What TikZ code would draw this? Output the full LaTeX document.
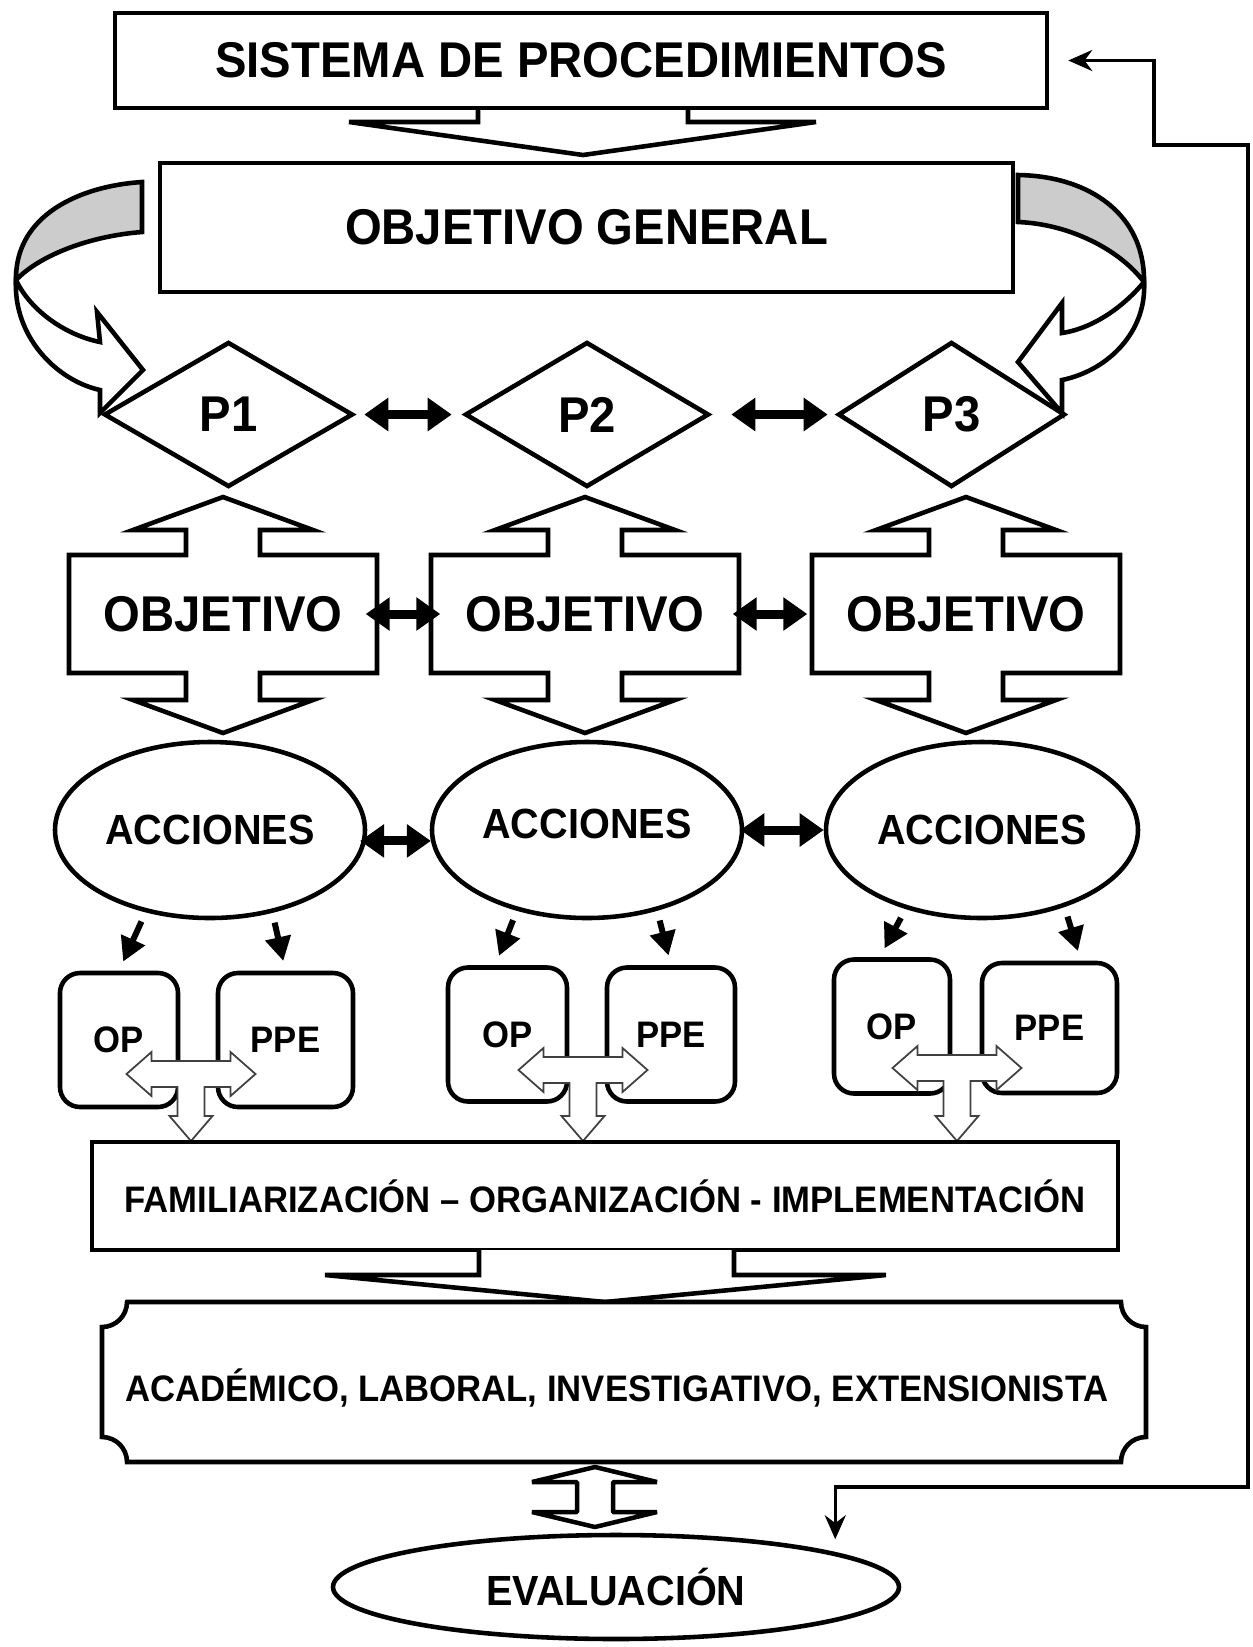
\documentclass[tikz,border=0pt]{standalone}
\usepackage{fontspec}
\setmainfont{Liberation Sans}[FakeStretch=0.94]
\usetikzlibrary{arrows.meta,shapes,calc}

\begin{document}
\begin{tikzpicture}[
	caja/.style={draw,line width=1.3pt,fill=white,inner sep=0pt},
	forma/.style={draw,line width=1.3pt,fill=white,line join=miter},
	tflecha/.style={draw=black!75,line width=0.5pt,fill=white,line join=miter},
	grande/.style={font=\fontsize{14.3}{16}\selectfont\bfseries},
	mediana/.style={font=\fontsize{12}{14}\selectfont\bfseries},
	chica/.style={font=\fontsize{10.5}{12}\selectfont\bfseries},
	rombo/.style={caja,diamond,minimum height=14.5mm,grande},
	elipse/.style={caja,ellipse,minimum width=31mm,minimum height=17.6mm,mediana},
	redondo/.style={caja,rounded corners=2mm,minimum height=13.4mm,chica},
	flechadoble/.style={line width=0.9mm,{Triangle[width=3.2mm,length=2.4mm]}-{Triangle[width=3.2mm,length=2.4mm]}},
	flechita/.style={line width=0.6mm,-{Triangle[width=2.5mm,length=2.4mm]},shorten <=1mm,shorten >=1mm},
	retro/.style={line width=0.35mm,{Stealth[length=2.4mm,width=2.1mm]}-{Stealth[length=2.4mm,width=2.1mm]}}]


\useasboundingbox (0mm,0mm) rectangle (125.3mm,-164.7mm);



\draw[forma] (47.8mm,-10.8mm) -- (47.8mm,-12.2mm) -- (34.9mm,-12.2mm) -- (58.3mm,-15.5mm) -- (81.6mm,-12.2mm) -- (68.8mm,-12.2mm) -- (68.8mm,-10.8mm);% down


\draw[forma] (1.6mm,-28mm) .. controls (3mm,-31mm) and (6.5mm,-33.5mm) .. (10mm,-34.2mm) -- (9.7mm,-31.2mm) -- (14.3mm,-37mm) -- (10mm,-41.3mm) -- (10mm,-39mm) .. controls (5.5mm,-38mm) and (1.3mm,-33.5mm) .. (1.6mm,-28mm) -- cycle;%left curve
\draw[forma,fill=black!20] (14.2mm,-18.2mm) .. controls (8mm,-18.6mm) and (1.5mm,-21.5mm) .. (1.6mm,-28mm) .. controls (4mm,-25.5mm) and (9mm,-23.6mm) .. (14.2mm,-23.2mm) -- cycle;

\draw[forma] (114.4mm,-28.2mm) .. controls (112.5mm,-30.5mm) and (109.5mm,-32.8mm) .. (106.2mm,-33.3mm) -- (106.2mm,-30.3mm) -- (101.8mm,-36.2mm) -- (106.2mm,-41.3mm) -- (106.2mm,-38mm) .. controls (111mm,-37mm) and (114.7mm,-33mm) .. (114.4mm,-28.2mm) -- cycle;%right curve
\draw[forma,fill=black!20] (101.8mm,-17.5mm) .. controls (109mm,-17.6mm) and (114.5mm,-21.5mm) .. (114.4mm,-28.2mm) .. controls (112mm,-25mm) and (107mm,-22.4mm) .. (101.8mm,-22.2mm) -- cycle;


\node[caja,grande,minimum width=93.2mm,minimum height=9.5mm] (sistema) at (58.1mm,-6.05mm) {SISTEMA DE PROCEDIMIENTOS};
\node[caja,grande,minimum width=85.3mm,minimum height=12.9mm] (objgeneral) at (58.65mm,-22.75mm) {\raisebox{-0.9mm}{OBJETIVO GENERAL}};


\node[rombo,minimum width=24.9mm] (p1) at (22.85mm,-41.45mm) {P1};
\node[rombo,minimum width=24.4mm] (p2) at (58.7mm,-41.45mm) {P2};
\node[rombo,minimum width=22.7mm] (p3) at (95.15mm,-41.45mm) {P3};


\draw[forma] (18.6mm,-55.5mm) -- ++(0,2.5mm) -- ++(-5.3mm,0) -- ++(9mm,3.3mm) -- ++(9mm,-3.3mm) -- ++(-5.3mm,0) -- ++(0,-2.5mm) -- ++(11.7mm,0) -- ++(0,-11.8mm) -- ++(-11.7mm,0) -- ++(0,-2.7mm) -- ++(5.3mm,0) -- ++(-9mm,-3.3mm) -- ++(-9mm,3.3mm) -- ++(5.3mm,0) -- ++(0,2.7mm) -- ++(-11.7mm,0) -- ++(0,11.8mm) -- cycle;
\draw[forma] (54.8mm,-55.5mm) -- ++(0,2.5mm) -- ++(-5.3mm,0) -- ++(9mm,3.3mm) -- ++(9mm,-3.3mm) -- ++(-5.3mm,0) -- ++(0,-2.5mm) -- ++(11.7mm,0) -- ++(0,-11.8mm) -- ++(-11.7mm,0) -- ++(0,-2.7mm) -- ++(5.3mm,0) -- ++(-9mm,-3.3mm) -- ++(-9mm,3.3mm) -- ++(5.3mm,0) -- ++(0,2.7mm) -- ++(-11.7mm,0) -- ++(0,11.8mm) -- cycle;
\draw[forma] (92.9mm,-55.5mm) -- ++(0,2.5mm) -- ++(-5.3mm,0) -- ++(9mm,3.3mm) -- ++(9mm,-3.3mm) -- ++(-5.3mm,0) -- ++(0,-2.5mm) -- ++(11.7mm,0) -- ++(0,-11.8mm) -- ++(-11.7mm,0) -- ++(0,-2.7mm) -- ++(5.3mm,0) -- ++(-9mm,-3.3mm) -- ++(-9mm,3.3mm) -- ++(5.3mm,0) -- ++(0,2.7mm) -- ++(-11.7mm,0) -- ++(0,11.8mm) -- cycle;

\node[grande,inner sep=0pt,minimum width=30.8mm,minimum height=11.8mm] (obj1) at (22.3mm,-61.4mm) {OBJETIVO};
\node[grande,inner sep=0pt,minimum width=30.8mm,minimum height=11.8mm] (obj2) at (58.5mm,-61.4mm) {OBJETIVO};
\node[grande,inner sep=0pt,minimum width=30.8mm,minimum height=11.8mm] (obj3) at (96.6mm,-61.4mm) {OBJETIVO};


\node[elipse] (acc1) at (21mm,-83mm) {ACCIONES};
\node[elipse] (acc2) at (58.7mm,-83mm) {\raisebox{1.2mm}{ACCIONES}};
\node[elipse,minimum width=31.2mm] (acc3) at (98.2mm,-83mm) {ACCIONES};


\node[redondo,minimum width=11.8mm] (op1) at (11.9mm,-104mm) {OP};
\node[redondo,minimum width=13.5mm] (ppe1) at (28.55mm,-104mm) {PPE};
\node[redondo,minimum width=11.9mm] (op2) at (50.75mm,-103.45mm) {OP};
\node[redondo,minimum width=12.8mm] (ppe2) at (67.1mm,-103.45mm) {PPE};
\node[redondo,minimum width=11.6mm] (op3) at (89.2mm,-102.65mm) {OP};
\node[redondo,minimum width=13.5mm,minimum height=13mm] (ppe3) at (104.95mm,-102.8mm) {PPE};


\draw[tflecha] (12.65mm,-107.4mm) -- ++(2.5mm,2.2mm) -- ++(0,-0.9mm) -- ++(7.9mm,0) -- ++(0,0.9mm) -- ++(2.5mm,-2.2mm) -- ++(-2.5mm,-2.2mm) -- ++(0,0.9mm) -- ++(-2.6mm,0) -- ++(0,-2.9mm) -- ++(0.8mm,0) -- ++(-2.15mm,-2.5mm) -- ++(-2.15mm,2.5mm) -- ++(0.8mm,0) -- ++(0,2.9mm) -- ++(-2.6mm,0) -- ++(0,-0.9mm) -- cycle;
\draw[tflecha] (51.85mm,-107mm) -- ++(2.5mm,2.2mm) -- ++(0,-0.9mm) -- ++(7.9mm,0) -- ++(0,0.9mm) -- ++(2.5mm,-2.2mm) -- ++(-2.5mm,-2.2mm) -- ++(0,0.9mm) -- ++(-2.6mm,0) -- ++(0,-3.3mm) -- ++(0.8mm,0) -- ++(-2.15mm,-2.5mm) -- ++(-2.15mm,2.5mm) -- ++(0.8mm,0) -- ++(0,3.3mm) -- ++(-2.6mm,0) -- ++(0,-0.9mm) -- cycle;
\draw[tflecha] (89.25mm,-106.8mm) -- ++(2.5mm,2.2mm) -- ++(0,-0.9mm) -- ++(7.9mm,0) -- ++(0,0.9mm) -- ++(2.5mm,-2.2mm) -- ++(-2.5mm,-2.2mm) -- ++(0,0.9mm) -- ++(-2.6mm,0) -- ++(0,-3.5mm) -- ++(0.8mm,0) -- ++(-2.15mm,-2.5mm) -- ++(-2.15mm,2.5mm) -- ++(0.8mm,0) -- ++(0,3.5mm) -- ++(-2.6mm,0) -- ++(0,-0.9mm) -- cycle;


\node[caja,chica,minimum width=102.6mm,minimum height=10.8mm] (familiarizacion) at (60.5mm,-119.6mm) {FAMILIARIZACIÓN – ORGANIZACIÓN - IMPLEMENTACIÓN};

\draw[forma] (47.9mm,-125mm) -- (47.9mm,-127.5mm) -- (32.5mm,-127.5mm) -- (60.5mm,-130.2mm) -- (88.6mm,-127.5mm) -- (73.4mm,-127.5mm) -- (73.4mm,-125mm);% down


\draw[forma] (12.7mm,-130.2mm) -- (112.1mm,-130.2mm) arc[start angle=180,end angle=270,radius=2.5mm] -- (114.6mm,-143.7mm) arc[start angle=90,end angle=180,radius=2.5mm] -- (12.7mm,-146.2mm) arc[start angle=0,end angle=90,radius=2.5mm] -- (10.2mm,-132.7mm) arc[start angle=270,end angle=360,radius=2.5mm] -- cycle;
\node[chica] (academico) at (61.7mm,-138.8mm) {ACADÉMICO, LABORAL, INVESTIGATIVO, EXTENSIONISTA};


\draw[forma,line width=0.45mm,line join=bevel] (59.5mm,-146.7mm) -- (65.7mm,-148.2mm) -- (61.3mm,-148.2mm) -- (61.3mm,-151.2mm) -- (65.7mm,-151.2mm) -- (59.5mm,-152.7mm) -- (53.2mm,-151.2mm) -- (57.7mm,-151.2mm) -- (57.7mm,-148.2mm) -- (53.2mm,-148.2mm) -- cycle;

\node[caja,ellipse,mediana,minimum width=56.6mm,minimum height=10.4mm] (evaluacion) at (61.6mm,-158.7mm) {EVALUACIÓN};


\draw[flechadoble,shorten <=0.9mm,shorten >=1.1mm] (p1.east) -- (p2.west);
\draw[flechadoble,shorten <=2mm,shorten >=0.8mm] (p2.east) -- (p3.west);

\draw[flechadoble,shorten <=-1.2mm,shorten >=-1mm] (obj1.east) -- (obj2.west);
\draw[flechadoble,shorten <=-0.7mm,shorten >=0.4mm] (obj2.east) -- (obj3.west);

\draw[flechadoble,shorten <=-0.6mm] (acc1.-4) -- (acc2.184);
\draw[flechadoble,shorten <=-0.4mm] (acc2.east) -- (acc3.west);


\draw[flechita] (acc1.232) -- (op1.north);
\draw[flechita] (acc1.307) -- (ppe1.north);
\draw[flechita] (acc2.229) -- (op2.100);
\draw[flechita] (acc2.311) -- (ppe2.north);
\draw[flechita] (acc3.226) -- (op3.100);
\draw[flechita] (acc3.317) -- (ppe3.65);


\draw[retro,shorten <=1.9mm,shorten >=1.3mm] (sistema.east) -| (115.4mm,-14.5mm) -| (124.8mm,-148.7mm) -| (evaluacion.9);% feedback


\end{tikzpicture}
\end{document}
